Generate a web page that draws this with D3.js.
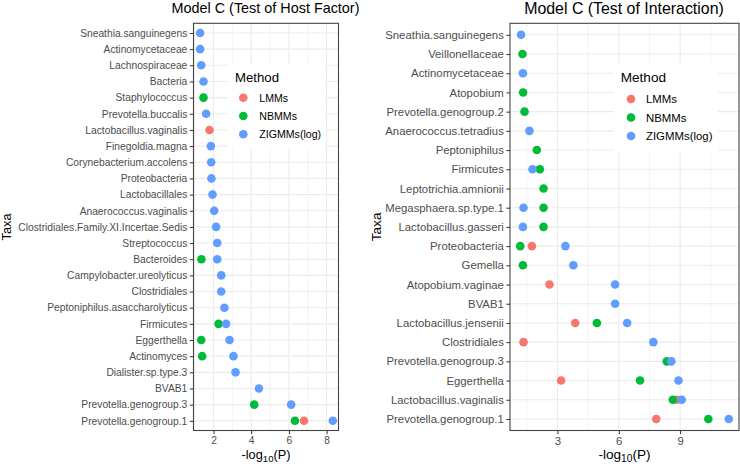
<!DOCTYPE html>
<html>
<head>
<meta charset="utf-8">
<script src="https://cdn.jsdelivr.net/npm/d3@7"></script>
<style>
  body { margin: 0; background: #fff; }
  svg { font-family: "Liberation Sans", Arial, sans-serif; }
</style>
</head>
<body>
<div id="chart"></div>
<script>
// ----------- Data ------------

const methods = ["LMMs", "NBMMs", "ZIGMMs(log)"];
const methodColors = ["#F8766D", "#00BA38", "#619CFF"];

// Model C, test of host factor (top to bottom)
const hostTaxa = [
  "Sneathia.sanguinegens", "Actinomycetaceae", "Lachnospiraceae", "Bacteria",
  "Staphylococcus", "Prevotella.buccalis", "Lactobacillus.vaginalis", "Finegoldia.magna",
  "Corynebacterium.accolens", "Proteobacteria", "Lactobacillales", "Anaerococcus.vaginalis",
  "Clostridiales.Family.XI.Incertae.Sedis", "Streptococcus", "Bacteroides",
  "Campylobacter.ureolyticus", "Clostridiales", "Peptoniphilus.asaccharolyticus",
  "Firmicutes", "Eggerthella", "Actinomyces", "Dialister.sp.type.3", "BVAB1",
  "Prevotella.genogroup.3", "Prevotella.genogroup.1"
];
const hostLMMs = [
  null, null, null, null, null, null, 1.79, null, null, null, null, null, null,
  null, null, null, null, null, null, null, null, null, null, null, 6.80
];
const hostNBMMs = [
  null, null, null, null, 1.47, null, null, null, null, null, null, null, null,
  null, 1.36, null, null, null, 2.27, 1.35, 1.40, null, null, 4.16, 6.32
];
const hostZIGMMs = [
  1.29, 1.29, 1.35, 1.47, null, 1.61, null, 1.86, 1.88, 1.89, 1.95, 2.04, 2.14,
  2.20, 2.20, 2.41, 2.41, 2.58, 2.67, 2.85, 3.06, 3.17, 4.41, 6.12, 8.33
];
const hostTicks = [2, 4, 6, 8];

// Model C, test of interaction (top to bottom)
const interTaxa = [
  "Sneathia.sanguinegens", "Veillonellaceae", "Actinomycetaceae", "Atopobium",
  "Prevotella.genogroup.2", "Anaerococcus.tetradius", "Peptoniphilus", "Firmicutes",
  "Leptotrichia.amnionii", "Megasphaera.sp.type.1", "Lactobacillus.gasseri",
  "Proteobacteria", "Gemella", "Atopobium.vaginae", "BVAB1", "Lactobacillus.jensenii",
  "Clostridiales", "Prevotella.genogroup.3", "Eggerthella", "Lactobacillus.vaginalis",
  "Prevotella.genogroup.1"
];
const interLMMs = [
  null, null, null, null, null, null, null, null, null, null, null,
  1.75, null, 2.61, null, 3.87, 1.34, null, 3.18, 8.84, 7.83
];
const interNBMMs = [
  null, 1.29, null, 1.32, 1.39, null, 1.99, 2.14, 2.32, 2.32, 2.32,
  1.18, 1.31, null, null, 4.93, null, 8.35, 7.04, 8.64, 10.38
];
const interZIGMMs = [
  1.22, null, 1.31, null, null, 1.63, null, 1.78, null, 1.34, 1.31,
  3.39, 3.78, 5.82, 5.82, 6.41, 7.69, 8.57, 8.92, 9.08, 11.38
];
const interTicks = [3, 6, 9];

// ----------- Drawing ------------

const width = 740;
const height = 464;

const svg = d3.select("#chart")
  .append("svg")
  .attr("width", width)
  .attr("height", height);

function drawPanel(opts) {
  const g = svg.append("g");
  const fs = opts.fonts;
  const x = d3.scaleLinear().domain(opts.domain).range([opts.left, opts.right]);
  const y = d3.scaleLinear()
    .domain([0.4, opts.taxa.length + 0.6])
    .range([opts.top, opts.bottom]);

  // minor grid (midpoints between major ticks)
  const step = opts.ticks[1] - opts.ticks[0];
  const minor = d3.range(opts.ticks[0] - step * 1.5, opts.domain[1], step)
    .filter(v => v > opts.domain[0] && v < opts.domain[1]);
  g.selectAll(".minor").data(minor).enter().append("line")
    .attr("x1", d => x(d)).attr("x2", d => x(d))
    .attr("y1", opts.top).attr("y2", opts.bottom)
    .attr("stroke", "#F3F3F3").attr("stroke-width", 1);

  // major grid
  g.selectAll(".vmajor").data(opts.ticks).enter().append("line")
    .attr("x1", d => x(d)).attr("x2", d => x(d))
    .attr("y1", opts.top).attr("y2", opts.bottom)
    .attr("stroke", "#EBEBEB").attr("stroke-width", 1.1);
  g.selectAll(".hmajor").data(opts.taxa).enter().append("line")
    .attr("x1", opts.left).attr("x2", opts.right)
    .attr("y1", (d, i) => y(i + 1)).attr("y2", (d, i) => y(i + 1))
    .attr("stroke", "#EBEBEB").attr("stroke-width", 1.1);

  // legend background (inside panel, hides grid)
  const lg = opts.legend;
  g.append("rect")
    .attr("x", lg.x).attr("y", lg.y)
    .attr("width", lg.w).attr("height", lg.h)
    .attr("fill", "#fff");
  g.append("text")
    .attr("x", lg.titleX).attr("y", lg.titleY)
    .attr("font-size", fs.legendTitle).attr("fill", "#000")
    .text("Method");
  methods.forEach((m, i) => {
    const cy = lg.keyY + i * lg.step;
    g.append("circle")
      .attr("cx", lg.keyX).attr("cy", cy).attr("r", 4.3)
      .attr("fill", methodColors[i]);
    g.append("text")
      .attr("x", lg.labelX).attr("y", cy + 4)
      .attr("font-size", fs.legend).attr("fill", "#000")
      .text(m);
  });

  // points
  opts.series.forEach((vals, k) => {
    g.selectAll(".pt" + k)
      .data(vals.map((v, i) => ({ v, i })).filter(d => d.v !== null))
      .enter().append("circle")
      .attr("cx", d => x(d.v))
      .attr("cy", d => y(d.i + 1))
      .attr("r", 4.3)
      .attr("fill", methodColors[k]);
  });

  // panel border
  g.append("rect")
    .attr("x", opts.left).attr("y", opts.top)
    .attr("width", opts.right - opts.left).attr("height", opts.bottom - opts.top)
    .attr("fill", "none").attr("stroke", "#444").attr("stroke-width", 1.1);

  // y axis
  const yAxis = g.append("g")
    .attr("transform", `translate(${opts.left},0)`)
    .call(d3.axisLeft(y)
      .tickValues(d3.range(1, opts.taxa.length + 1))
      .tickFormat(d => opts.taxa[d - 1])
      .tickSize(3.7).tickPadding(2.5));
  yAxis.select(".domain").remove();
  yAxis.selectAll(".tick line").attr("stroke", "#333");
  yAxis.selectAll(".tick text")
    .attr("font-size", fs.tick).attr("fill", "#4D4D4D")
    .attr("font-family", "Liberation Sans, Arial, sans-serif");

  // x axis
  const xAxis = g.append("g")
    .attr("transform", `translate(0,${opts.bottom})`)
    .call(d3.axisBottom(x).tickValues(opts.ticks).tickSize(3.7).tickPadding(3));
  xAxis.select(".domain").remove();
  xAxis.selectAll(".tick line").attr("stroke", "#333");
  xAxis.selectAll(".tick text")
    .attr("font-size", fs.tick).attr("fill", "#4D4D4D")
    .attr("font-family", "Liberation Sans, Arial, sans-serif");

  // titles
  const cx = (opts.left + opts.right) / 2;
  g.append("text")
    .attr("x", opts.titleX).attr("y", opts.titleY)
    .attr("text-anchor", "middle")
    .attr("font-size", fs.title).attr("fill", "#000")
    .text(opts.title);

  const xt = g.append("text")
    .attr("x", cx).attr("y", 459)
    .attr("text-anchor", "middle")
    .attr("font-size", fs.axisTitle).attr("fill", "#000");
  xt.append("tspan").text("-log");
  xt.append("tspan").attr("font-size", fs.axisTitle * 0.75).attr("dy", 3).text("10");
  xt.append("tspan").attr("dy", -3).text("(P)");

  g.append("text")
    .attr("transform", `translate(${opts.yTitleX},${(opts.top + opts.bottom) / 2}) rotate(-90)`)
    .attr("text-anchor", "middle")
    .attr("font-size", fs.axisTitle).attr("fill", "#000")
    .text("Taxa");
}

drawPanel({
  title: "Model C (Test of Host Factor)",
  titleX: 265.5, titleY: 13,
  taxa: hostTaxa,
  series: [hostLMMs, hostNBMMs, hostZIGMMs],
  ticks: hostTicks,
  domain: [0.94, 8.63],
  left: 193.5, right: 338.5, top: 23.3, bottom: 430.5,
  yTitleX: 11,
  fonts: { tick: 10.25, title: 14.4, axisTitle: 12.8, legendTitle: 13.2, legend: 10.6 },
  legend: { x: 228, y: 64, w: 98, h: 84, titleX: 235, titleY: 82,
            keyX: 243.3, keyY: 97.7, step: 18.3, labelX: 259.3 }
});

drawPanel({
  title: "Model C (Test of Interaction)",
  titleX: 624, titleY: 13.5,
  taxa: interTaxa,
  series: [interLMMs, interNBMMs, interZIGMMs],
  ticks: interTicks,
  domain: [0.68, 11.88],
  left: 510, right: 739, top: 23.3, bottom: 430.5,
  yTitleX: 381,
  fonts: { tick: 11.35, title: 15.9, axisTitle: 13.6, legendTitle: 13.6, legend: 11.4 },
  legend: { x: 614, y: 64, w: 104, h: 88, titleX: 620.7, titleY: 82,
            keyX: 631, keyY: 99, step: 18.5, labelX: 646 }
});
</script>
</body>
</html>
